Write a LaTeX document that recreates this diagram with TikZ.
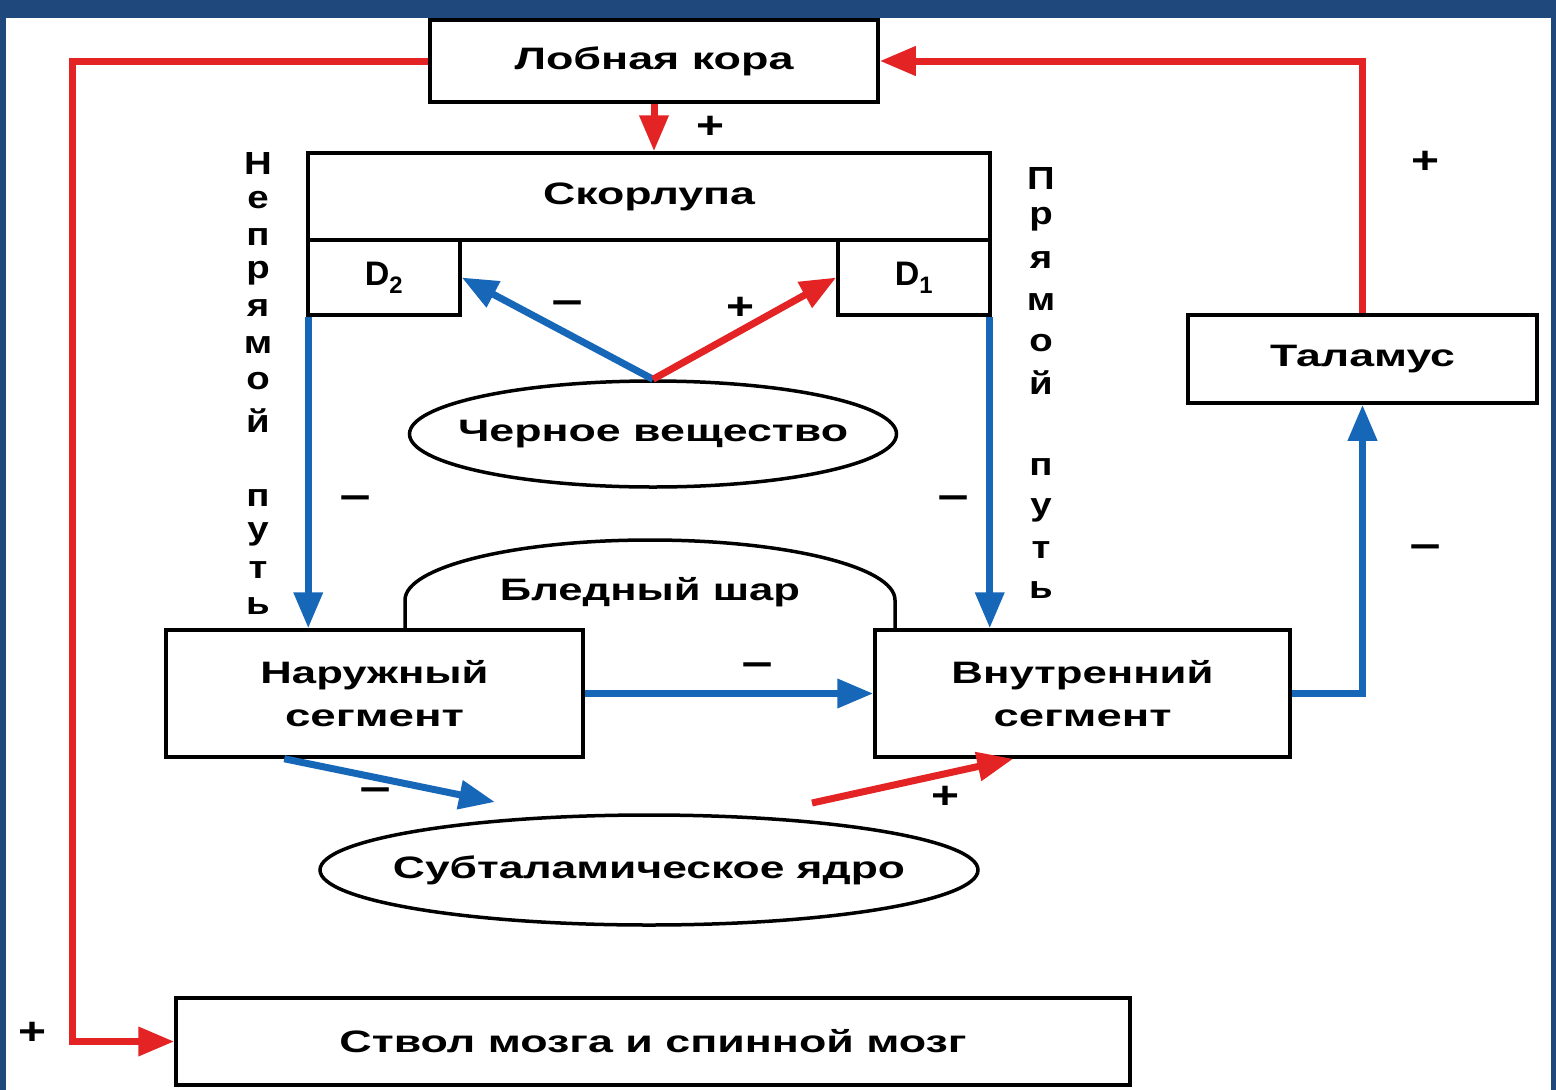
\documentclass[tikz,border=0pt]{standalone}
\usepackage{fontspec}
\setmainfont{Liberation Sans}
\usepackage{graphicx}
\usetikzlibrary{arrows.meta,shapes.geometric,calc}
\definecolor{framec}{HTML}{1F487C}
\definecolor{ared}{HTML}{E42424}
\definecolor{ablue}{HTML}{1767B9}
\newcommand\fw[2]{\resizebox{#1pt}{\height}{#2}}
\newcommand\bigtxt{\fontsize{31}{43}\selectfont\bfseries}
\begin{document}
\begin{tikzpicture}[x=1pt,y=-1pt,
 box/.style={draw, line width=3.5pt, inner sep=0pt, font=\bigtxt, align=center},
 oval/.style={draw, ellipse, line width=3.5pt, inner sep=0pt, font=\bigtxt},
 rarrow/.style={draw=ared, line width=7pt, -{Triangle[length=36pt,width=28pt]}},
 barrow/.style={draw=ablue, line width=7pt, -{Triangle[length=36pt,width=28pt]}},
 sign/.style={font=\fontsize{38}{38}\selectfont\bfseries, inner sep=0pt},
 vlet/.style={font=\fontsize{32}{32}\selectfont\bfseries, inner sep=0pt, anchor=base},
]
\useasboundingbox (0,0) rectangle (1556,1090);
\fill[framec] (0,0) rectangle (1556,1090);
\fill[white] (6,18) rectangle (1551,1090);

% boxes
\node[box, minimum width=448pt, minimum height=82pt] (lobn) at (654,61) {\fw{279}{Лобная кора}};
\node[box, minimum width=682pt, minimum height=87pt] (skor) at (649,196.5) {\fw{212}{Скорлупа}};
\node[box, minimum width=152pt, minimum height=75pt, font=\fontsize{34}{40}\selectfont\bfseries] (d2) at (384,277.5) {D\textsubscript{2}};
\node[box, minimum width=152pt, minimum height=75pt, font=\fontsize{34}{40}\selectfont\bfseries] (d1) at (914,277.5) {D\textsubscript{1}};
\node[oval, minimum width=487pt, minimum height=106pt] (cher) at (653,434) {\makebox[0pt]{\fw{390}{Черное вещество}}};
\draw[line width=3.5pt] (405,630) -- (405,600) arc[start angle=180, end angle=0, x radius=245pt, y radius=60pt] -- (895,630);
\node[font=\bigtxt, inner sep=0pt] (bled) at (650,592) {\fw{300}{Бледный шар}};
\node[box, minimum width=417pt, minimum height=127pt] (nar) at (374.5,693.5) {\fw{228}{Наружный}\\\fw{179}{сегмент}};
\node[box, minimum width=415pt, minimum height=127pt] (vnu) at (1082.5,693.5) {\fw{262}{Внутренний}\\\fw{178}{сегмент}};
\node[box, minimum width=349pt, minimum height=88pt] (tal) at (1362.5,359) {\fw{185}{Таламус}};
\node[oval, minimum width=658pt, minimum height=110pt] (sub) at (649,870) {\makebox[0pt]{\fw{512}{Субталамическое ядро}}};
\node[box, minimum width=954pt, minimum height=87pt] (stv) at (653,1041.5) {\fw{627}{Ствол мозга и спинной мозг}};

% connectors
\draw[rarrow] (lobn.south) -- (lobn.south |- skor.north);
\draw[rarrow] (tal.north) |- (lobn.east);
\coordinate (lc) at (72,61);
\draw[rarrow] (lobn.west) -- (lc) |- (stv.west);
\draw[barrow] (cher.north) -- (d2.east);
\draw[rarrow] (cher.north) -- (d1.west);
\draw[barrow] ([xshift=2pt]d2.south west) -- ([xshift=2pt]d2.south west |- nar.north);
\draw[barrow] ([xshift=-2pt]d1.south east) -- ([xshift=-2pt]d1.south east |- vnu.north);
\draw[barrow] (nar.east) -- (vnu.west);
\draw[barrow] (vnu.east) -| (tal.south);
\coordinate (sA) at (495,802);
\draw[barrow] ($(nar.south west)+(120,0)$) -- (sA);
\coordinate (sB) at (812,803);
\draw[rarrow] (sB) -- ($(vnu.south west)+(140,0)$);

% signs
\node[sign] (p1) at (710,127) {\fw{28}{+}};
\node[sign] (p2) at (1425,162) {\fw{28}{+}};
\node[sign] (p3) at (32,1033) {\fw{28}{+}};
\node[sign] (m1) at (567,308) {\fw{32}{−}};
\node[sign] (p4) at (740,308) {\fw{28}{+}};
\node[sign] (m2) at (355,503) {\fw{32}{−}};
\node[sign] (m3) at (953,503) {\fw{32}{−}};
\node[sign] (m4) at (757,670) {\fw{32}{−}};
\node[sign] (m5) at (1425,552) {\fw{32}{−}};
\node[sign] (m6) at (375,795) {\fw{32}{−}};
\node[sign] (p5) at (945,797) {\fw{28}{+}};

% vertical texts
\foreach \l/\y [count=\i] in {Н/174,е/208.5,п/245.5,р/278.5,я/316.5,м/353.5,о/389.5,й/432.5,п/506.5,у/539.5,т/578.5,ь/614.5}
  \node[vlet] (vl\i) at (258,\y) {\scalebox{1.2}[1]{\l}};
\foreach \l/\y [count=\i] in {П/189,р/224.5,я/268.5,м/310.5,о/351.5,й/394.5,п/475.5,у/515.5,т/558.5,ь/598.5}
  \node[vlet] (vr\i) at (1041,\y) {\scalebox{1.2}[1]{\l}};
\end{tikzpicture}
\end{document}
